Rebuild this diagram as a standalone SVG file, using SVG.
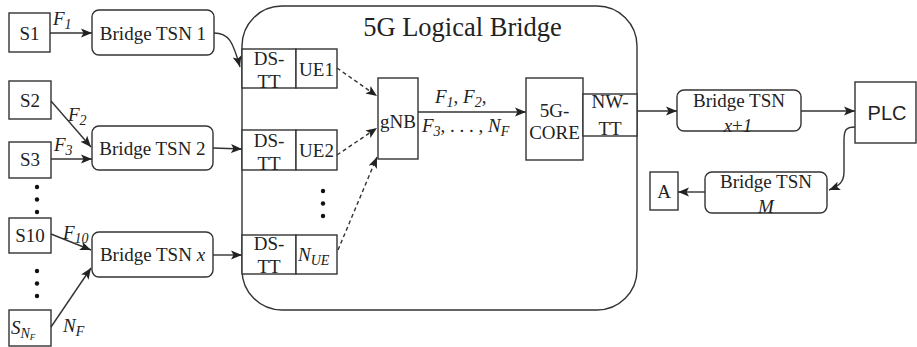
<svg xmlns="http://www.w3.org/2000/svg" width="917" height="347" viewBox="0 0 917 347" font-family="Liberation Serif, Times New Roman, serif">
<defs>
<marker id="ah" markerUnits="userSpaceOnUse" markerWidth="12" markerHeight="10" refX="11" refY="5" orient="auto">
<path d="M0,0.5 L11,5 L0,9.5 L2.5,5 Z" fill="#222"/>
</marker>
<style>
.t{font-size:19px;fill:#222;text-anchor:middle}
.i{font-style:italic;font-size:19px;fill:#222}
.s{font-size:14px}
.c{fill:none;stroke:#333;stroke-width:1.4}
.d{fill:none;stroke:#333;stroke-width:1.4;stroke-dasharray:4 3}
.dot{fill:#111}
.b{fill:#fff;stroke:#333;stroke-width:1.4}
</style>
</defs>
<rect width="917" height="347" fill="#fff"/>

<g id="logical-bridge">
<rect class="b" x="242" y="6" width="395" height="304" rx="40" ry="40"/>
<text class="t" x="462.5" y="36" style="font-size:26.5px">5G Logical Bridge</text>
</g>

<g id="S1"><rect class="b" x="9" y="13" width="41" height="39"/><text class="t" x="29.5" y="39.5">S1</text></g>
<g id="S2"><rect class="b" x="9" y="81" width="42" height="38"/><text class="t" x="30" y="107">S2</text></g>
<g id="S3"><rect class="b" x="9" y="142" width="42" height="36"/><text class="t" x="30" y="166">S3</text></g>
<g id="S10"><rect class="b" x="9" y="218" width="42" height="35"/><text class="t" x="30" y="242">S10</text></g>
<g id="SNF"><rect class="b" x="9" y="310" width="42" height="36"/>
<text class="i" x="11" y="334">S<tspan class="s" dy="4">N</tspan><tspan font-size="9" dy="2">F</tspan></text></g>

<g id="dots-left">
<circle class="dot" cx="37" cy="187" r="2.2"/><circle class="dot" cx="37" cy="199.5" r="2.2"/><circle class="dot" cx="37" cy="212" r="2.2"/>
<circle class="dot" cx="37" cy="271" r="2.2"/><circle class="dot" cx="37" cy="283.5" r="2.2"/><circle class="dot" cx="37" cy="296" r="2.2"/>
</g>

<g id="bridge1"><rect class="b" x="92" y="10" width="122" height="45" rx="7"/><text class="t" x="153" y="39.5">Bridge TSN 1</text></g>
<g id="bridge2"><rect class="b" x="92" y="126" width="121" height="44" rx="7"/><text class="t" x="152.5" y="155">Bridge TSN 2</text></g>
<g id="bridgex"><rect class="b" x="92" y="232" width="121" height="45" rx="7"/><text class="t" x="152.5" y="261">Bridge TSN <tspan font-style="italic">x</tspan></text></g>

<g id="dstt1"><rect class="b" x="242" y="49" width="54" height="39"/><text class="t" x="269" y="65">DS-</text><text class="t" x="269" y="87.5">TT</text></g>
<g id="ue1"><rect class="b" x="296" y="49" width="41" height="39"/><text class="t" x="316.5" y="76">UE1</text></g>
<g id="dstt2"><rect class="b" x="242" y="130" width="54" height="40"/><text class="t" x="269" y="147">DS-</text><text class="t" x="269" y="169.5">TT</text></g>
<g id="ue2"><rect class="b" x="296" y="130" width="41" height="40"/><text class="t" x="316.5" y="157">UE2</text></g>
<g id="dstt3"><rect class="b" x="242" y="235" width="54" height="39"/><text class="t" x="269" y="250">DS-</text><text class="t" x="269" y="273">TT</text></g>
<g id="nue"><rect class="b" x="296" y="235" width="41" height="39"/><text class="i" x="298" y="261">N<tspan class="s" dy="4">UE</tspan></text></g>
<g id="dots-ue"><circle class="dot" cx="323" cy="191" r="2.2"/><circle class="dot" cx="323" cy="203.5" r="2.2"/><circle class="dot" cx="323" cy="216" r="2.2"/></g>

<g id="gnb"><rect class="b" x="378" y="78" width="40" height="81"/><text class="t" x="398" y="128">gNB</text></g>
<g id="core"><rect class="b" x="526" y="78" width="57" height="82"/><text class="t" x="554.5" y="117">5G-</text><text class="t" x="554.5" y="139">CORE</text></g>
<g id="nwtt"><rect class="b" x="583" y="94" width="54" height="42"/><text class="t" x="610" y="108">NW-</text><text class="t" x="610" y="135">TT</text></g>

<g id="bridgex1"><rect class="b" x="677" y="90" width="124" height="41" rx="7"/><text class="t" x="739" y="107">Bridge TSN</text><text class="t" x="738" y="132"><tspan font-style="italic">x</tspan>+<tspan font-style="italic">1</tspan></text></g>
<g id="plc"><rect class="b" x="855" y="82" width="61" height="61"/><text class="t" x="887" y="120" style="font-family:'Liberation Sans',Arial,sans-serif;font-size:20px">PLC</text></g>
<g id="bridgem"><rect class="b" x="705" y="172" width="122" height="41" rx="7"/><text class="t" x="766" y="188">Bridge TSN</text><text class="t" x="766" y="213" font-style="italic">M</text></g>
<g id="A"><rect class="b" x="650" y="172" width="28" height="38"/><text class="t" x="664" y="198">A</text></g>

<g id="connectors">
<line class="c" x1="50" y1="33" x2="92" y2="33" marker-end="url(#ah)"/>
<line class="c" x1="51" y1="101" x2="91" y2="147" marker-end="url(#ah)"/>
<line class="c" x1="51" y1="159" x2="92" y2="159" marker-end="url(#ah)"/>
<line class="c" x1="51" y1="234" x2="91" y2="250" marker-end="url(#ah)"/>
<line class="c" x1="51" y1="327" x2="91" y2="268" marker-end="url(#ah)"/>
<path class="c" d="M214,33 C229,33 233,42 240,67" marker-end="url(#ah)"/>
<line class="c" x1="213" y1="148" x2="242" y2="149" marker-end="url(#ah)"/>
<line class="c" x1="213" y1="255" x2="242" y2="255" marker-end="url(#ah)"/>
<line class="d" x1="337" y1="68" x2="377" y2="96" marker-end="url(#ah)"/>
<line class="d" x1="337" y1="155" x2="377" y2="128" marker-end="url(#ah)"/>
<line class="d" x1="338" y1="250" x2="377" y2="157" marker-end="url(#ah)"/>
<line class="c" x1="418" y1="112" x2="526" y2="112" marker-end="url(#ah)"/>
<line class="c" x1="637" y1="111" x2="677" y2="111" marker-end="url(#ah)"/>
<line class="c" x1="801" y1="111" x2="855" y2="111" marker-end="url(#ah)"/>
<path class="c" d="M855,127 C846,127 844,130 844,140 L844,172 C844,182 839,186 829,190" marker-end="url(#ah)"/>
<line class="c" x1="705" y1="192" x2="678" y2="192" marker-end="url(#ah)"/>
</g>

<g id="labels">
<text class="i" x="53" y="25">F<tspan class="s" dy="4">1</tspan></text>
<text class="i" x="68" y="121">F<tspan class="s" dy="4">2</tspan></text>
<text class="i" x="54" y="151">F<tspan class="s" dy="4">3</tspan></text>
<text class="i" x="63" y="239">F<tspan class="s" dy="4">10</tspan></text>
<text class="i" x="63" y="332">N<tspan class="s" dy="4">F</tspan></text>
<text class="i" x="435" y="103">F<tspan class="s" dy="4">1</tspan><tspan dy="-4" font-style="normal">, </tspan>F<tspan class="s" dy="4">2</tspan><tspan dy="-4" font-style="normal">,</tspan></text>
<text class="i" x="422" y="132">F<tspan class="s" dy="4">3</tspan><tspan dy="-4" font-style="normal">, . . . , </tspan>N<tspan class="s" dy="4">F</tspan></text>
</g>
</svg>
